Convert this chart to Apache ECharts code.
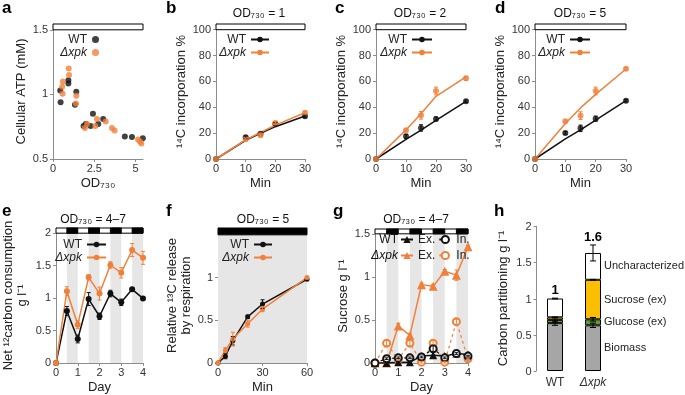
<!DOCTYPE html>
<html><head><meta charset="utf-8">
<script src="https://cdn.jsdelivr.net/npm/echarts@6/dist/echarts.min.js"></script>
<style>html,body{margin:0;padding:0;background:#fff}#c{width:685px;height:395px}</style>
</head><body><div id="c"></div>
<script>
// ---------------- data ----------------
// a: cellular ATP vs OD730
const atpOdWT = [0.44,0.46,0.93,0.93,1.41,1.33,1.85,1.98,2.28,2.42,2.74,3.04,4.35,4.78,5.44];
const atpWT   = [1.03,0.94,1.11,1.085,1.02,0.92,0.755,0.77,0.755,0.85,0.77,0.81,0.675,0.67,0.66];
const atpOdX  = [0.6,0.56,0.58,0.95,0.97,1.41,1.39,1.93,2.06,2.56,2.66,3.19,3.57,3.73,5.15,5.27,5.35];
const atpX    = [1.1,1.06,1.005,1.2,1.15,0.99,0.93,0.74,0.77,0.755,0.81,0.79,0.74,0.72,0.65,0.635,0.62];

// b-d: 14C incorporation
const incMin = [0,10,15,20,30];
const bWT = [0,16.8,19.5,27.3,33.0], bWTerr = [0,1,0,1,1];
const bX  = [0,15.2,18.3,27.8,35.8], bXerr  = [0,1,1,1,1];
const bFitWT = [0,14.5,19.8,25.0,33.2], bFitX = [0,14.8,20.5,26.2,35.8];
const cWT = [0,17.5,24,31,44.6], cWTerr = [0,1.5,2.5,1.5,1];
const cX  = [0,22.2,33.8,52.6,62.4], cXerr = [0,1,3,3,1.5];
const cFitWT = [0,15.2,22.3,29.8,44.6], cFitX = [0,22.5,35,48.5,63.5];
const dWT = [0,20.1,23.7,31.2,45.1], dWTerr = [0,1,2.5,2,1];
const dX  = [0,29.1,33.5,52.6,69.8], dXerr = [0,1,3,3,1];
const dFitWT = [0,15.5,22.5,30,45.1], dFitX = [0,27.5,39.5,50,69.6];

// e: net 12C consumption
const days = [0,0.5,1,1.5,2,2.5,3,3.5,4];
const eWT = [0,0.80,0.37,0.985,0.72,1.07,0.935,1.135,0.995];
const eWTerr = [0,0.07,0.06,0.1,0.05,0.05,0.05,0.02,0.01];
const eX = [0,1.105,0.59,1.32,1.07,1.51,1.39,1.74,1.62];
const eXerr = [0,0.07,0.06,0.04,0.1,0.05,0.08,0.1,0.1];
const nights = [[0.5,1],[1.5,2],[2.5,3],[3.5,4]];

// f: 13C release
const fMin = [0,5,10,20,30,60];
const fWT = [0,0.08,0.26,0.54,0.69,0.98], fWTerr = [0,0.03,0.05,0.02,0.05,0];
const fX  = [0,0.15,0.28,0.46,0.63,1.0],  fXerr  = [0,0.03,0.08,0.04,0.03,0];

// g: sucrose
const gWTex = [0,0,0.01,0.01,0.08,0.09,0.08,0.11,0.1];
const gWTin = [0,0.05,0.06,0.06,0.07,0.165,0.06,0.11,0.08];
const gWTinErr = [0,0.01,0.01,0.01,0.01,0.04,0.01,0.01,0.01];
const gXex = [0,0,0.43,0.32,0.91,0.89,1.065,1.02,1.35];
const gXexErr = [0,0,0.03,0.02,0.02,0.02,0.02,0.06,0.02];
const gXin = [0,0.23,0.04,0.23,0.01,0.23,0.01,0.48,0.05];
const gXinErr = [0,0.03,0.01,0.03,0.01,0.03,0.01,0.03,0.01];

// h: carbon partitioning
const hCats = ['WT','Δxpk'];
const hBiomass = [0.66,0.63], hBiomassErr = [0.03,0.03];
const hGlucose = [0.045,0.083], hGlucoseErr = [0.03,0.025];
const hSucrose = [0.035,0.545], hSucroseErr = [0.005,0.005];
const hUnchar = [0.26,0.37], hTotalErr = [0.005,0.11];
const hTotalText = ['1','1.6'];
const hTicks = [0,0.5,1,1.5,2];

// ---------------- style ----------------
const FONT = '"Liberation Sans", Arial, Helvetica, sans-serif';
const BLK = '#111111', ORG = '#f0803a', AX = '#8c8c8c', TXT = '#333333';
const zip = (xs, ys) => xs.map((x,i)=>[x, ys[i]]);
const zip3 = (xs, ys, es) => xs.map((x,i)=>[x, ys[i], es[i]]);
const strip = n => n.split(':')[1].replace(/^(WT|Δxpk) /,'');

function vAxis(gi, min, max, vals, name, gap, isY) {
  return {
    type:'value', gridIndex:gi, min, max, show:true, position:isY?'left':'bottom',
    axisLine:{show:true, onZero:false, lineStyle:{color:AX, width:1}},
    axisTick:{show:true, length:3, customValues:vals, lineStyle:{color:AX}},
    axisLabel:{show:true, color:TXT, fontSize:11, fontFamily:FONT, margin:isY?5:4, customValues:vals},
    splitLine:{show:false},
    name:name, nameLocation:'middle', nameGap:gap,
    nameTextStyle:{color:'#222', fontSize:13, fontFamily:FONT, lineHeight:14}
  };
}
function errBar(color, cap) {
  return function(params, api) {
    const x = api.value(0), y = api.value(1), e = api.value(2);
    if (!e) return null;
    const hi = api.coord([x, y+e]), lo = api.coord([x, y-e]);
    const st = {stroke:color, lineWidth:1};
    return {type:'group', children:[
      {type:'line', shape:{x1:hi[0],y1:hi[1],x2:lo[0],y2:lo[1]}, style:st},
      {type:'line', shape:{x1:hi[0]-cap,y1:hi[1],x2:hi[0]+cap,y2:hi[1]}, style:st},
      {type:'line', shape:{x1:lo[0]-cap,y1:lo[1],x2:lo[0]+cap,y2:lo[1]}, style:st}
    ]};
  };
}
function errSeries(gi, data, color, cap) {
  return {type:'custom', xAxisIndex:gi, yAxisIndex:gi, data, renderItem:errBar(color, cap||2), z:4, silent:true, encode:{x:0,y:1}};
}
const boxArea = (x0,x1,y0,y1) => [[{xAxis:x0,yAxis:y0,itemStyle:{color:'#fff',borderColor:'#000',borderWidth:1,opacity:1}},{xAxis:x1,yAxis:y1}]];
const nightBands = (y0,y1) => nights.map(n=>[{xAxis:n[0],yAxis:y0,itemStyle:{color:'#e6e6e6',borderWidth:0,opacity:1}},{xAxis:n[1],yAxis:y1}]);
const dayBar = (x0,x1,y0,y1) => boxArea(x0,x1,y0,y1).concat(nights.map(n=>[{xAxis:n[0],yAxis:y0,itemStyle:{color:'#000',borderColor:'#000',borderWidth:1,opacity:1}},{xAxis:n[1],yAxis:y1}]));
const mArea = data => ({silent:true, label:{show:false}, emphasis:{disabled:true}, data});

// ---------------- grids & axes ----------------
const grids = [
  {left:53, top:24, width:90, height:135},   // a
  {left:216, top:24, width:89, height:135},  // b
  {left:376, top:24, width:90, height:135},  // c
  {left:535, top:24, width:91, height:135},  // d
  {left:54, top:228, width:89, height:136},  // e
  {left:218, top:228, width:89, height:136}, // f
  {left:375, top:229, width:93, height:135}, // g
  {left:536, top:226, width:76, height:145}  // h
];
const incTicks = [0,20,40,60,80,100];
const xAxes = [
  vAxis(0,0,5.45,[0,2.5,5],'OD₇₃₀',17,false),
  vAxis(1,0,30,[0,10,20,30],'Min',17,false),
  vAxis(2,0,30,[0,10,20,30],'Min',17,false),
  vAxis(3,0,30,[0,10,20,30],'Min',17,false),
  vAxis(4,0,4,[0,1,2,3,4],'Day',17,false),
  vAxis(5,0,60,[0,30,60],'Min',17,false),
  vAxis(6,0,4,[0,1,2,3,4],'Day',17,false),
  {type:'category', gridIndex:7, data:hCats.map(c=>c==='Δxpk'?{value:c, textStyle:{fontStyle:'italic'}}:c),
   axisLine:{show:false}, axisTick:{show:false},
   axisLabel:{interval:0, color:TXT, fontSize:12, fontFamily:FONT, margin:6}}
];
const hYAxis = vAxis(7,0,2,hTicks,'Carbon partitioning g l⁻¹',26,true);
hYAxis.axisLine = {show:false}; hYAxis.axisTick = {show:false}; hYAxis.axisLabel = {show:false};
hYAxis.nameGap = 26;
const yAxes = [
  vAxis(0,0.5,1.545,[0.5,1,1.5],'Cellular ATP (mM)',24,true),
  vAxis(1,0,104.4,incTicks,'¹⁴C incorporation %',27,true),
  vAxis(2,0,104.4,incTicks,'¹⁴C incorporation %',27,true),
  vAxis(3,0,104.4,incTicks,'¹⁴C incorporation %',27,true),
  vAxis(4,0,2.08,[0,0.5,1,1.5,2],'Net ¹²carbon consumption\ng l⁻¹',27,true),
  vAxis(5,0,1.58,[0,0.5,1],'Relative ¹³C release\nby respiration',25,true),
  vAxis(6,0,1.556,[0,0.5,1,1.5],'Sucrose g l⁻¹',22,true),
  hYAxis
];

// ---------------- series ----------------
const series = [];
// a
series.push({name:'a:WT', type:'scatter', xAxisIndex:0, yAxisIndex:0, data:zip(atpOdWT, atpWT), symbolSize:6, itemStyle:{color:BLK}, clip:false,
  markArea:mArea(boxArea(0,5.45,1.5,1.545))});
series.push({name:'a:Δxpk', type:'scatter', xAxisIndex:0, yAxisIndex:0, data:zip(atpOdX, atpX), symbolSize:6, itemStyle:{color:ORG}});
// b-d
const incPanels = [
  ['b',1,bWT,bWTerr,bX,bXerr,bFitWT,bFitX],
  ['c',2,cWT,cWTerr,cX,cXerr,cFitWT,cFitX],
  ['d',3,dWT,dWTerr,dX,dXerr,dFitWT,dFitX]
];
incPanels.forEach(([p,gi,wt,wte,xx,xxe,fw,fx])=>{
  series.push({name:p+':WT', type:'line', xAxisIndex:gi, yAxisIndex:gi, data:zip(incMin,fw), symbol:'none', lineStyle:{color:BLK,width:1.5}, itemStyle:{color:BLK}, clip:false,
    markArea:mArea(boxArea(0,30,100,104.4))});
  series.push({name:p+':Δxpk', type:'line', xAxisIndex:gi, yAxisIndex:gi, data:zip(incMin,fx), symbol:'none', lineStyle:{color:ORG,width:1.5}, itemStyle:{color:ORG}});
  series.push({name:p+':WTpts', type:'scatter', xAxisIndex:gi, yAxisIndex:gi, data:zip(incMin,wt), symbolSize:6, itemStyle:{color:BLK}, z:3});
  series.push(errSeries(gi, zip3(incMin,wt,wte), BLK));
  series.push({name:p+':Xpts', type:'scatter', xAxisIndex:gi, yAxisIndex:gi, data:zip(incMin,xx), symbolSize:6, itemStyle:{color:ORG}, z:3});
  series.push(errSeries(gi, zip3(incMin,xx,xxe), ORG));
});
// e
series.push({name:'e:WT', type:'line', xAxisIndex:4, yAxisIndex:4, data:zip(days,eWT), symbol:'circle', symbolSize:6, lineStyle:{color:BLK,width:1.5}, itemStyle:{color:BLK}, clip:false,
  markArea:mArea(nightBands(0,2).concat(dayBar(0,4,2,2.08)))});
series.push(errSeries(4, zip3(days,eWT,eWTerr), BLK));
series.push({name:'e:Δxpk', type:'line', xAxisIndex:4, yAxisIndex:4, data:zip(days,eX), symbol:'circle', symbolSize:6, lineStyle:{color:ORG,width:1.5}, itemStyle:{color:ORG}});
series.push(errSeries(4, zip3(days,eX,eXerr), ORG));
// f
series.push({name:'f:WT', type:'line', xAxisIndex:5, yAxisIndex:5, data:zip(fMin,fWT), symbol:'circle', symbolSize:5, lineStyle:{color:BLK,width:1.5}, itemStyle:{color:BLK}, clip:false,
  markArea:mArea([[{xAxis:0,yAxis:0,itemStyle:{color:'#e6e6e6',borderWidth:0,opacity:1}},{xAxis:60,yAxis:1.5}],
                  [{xAxis:0,yAxis:1.5,itemStyle:{color:'#000',borderColor:'#000',borderWidth:1,opacity:1}},{xAxis:60,yAxis:1.58}]])});
series.push(errSeries(5, zip3(fMin,fWT,fWTerr), BLK));
series.push({name:'f:Δxpk', type:'line', xAxisIndex:5, yAxisIndex:5, data:zip(fMin,fX), symbol:'circle', symbolSize:5, lineStyle:{color:ORG,width:1.5}, itemStyle:{color:ORG}});
series.push(errSeries(5, zip3(fMin,fX,fXerr), ORG));
// g
series.push({name:'g:Δxpk Ex.', type:'line', xAxisIndex:6, yAxisIndex:6, data:zip(days,gXex), symbol:'triangle', symbolSize:9, lineStyle:{color:ORG,width:1.5}, itemStyle:{color:ORG}, clip:false,
  markArea:mArea(nightBands(0,1.5).concat(dayBar(0,4,1.5,1.556)))});
series.push(errSeries(6, zip3(days,gXex,gXexErr), ORG));
series.push({name:'g:Δxpk In.', type:'line', xAxisIndex:6, yAxisIndex:6, data:zip(days,gXin), symbol:'emptyCircle', symbolSize:7, lineStyle:{color:ORG,width:1.2,type:[3,3]}, itemStyle:{color:ORG, borderWidth:1.3}});
series.push(errSeries(6, zip3(days,gXin,gXinErr), ORG));
series.push({name:'g:WT Ex.', type:'line', xAxisIndex:6, yAxisIndex:6, data:zip(days,gWTex), symbol:'triangle', symbolSize:8, lineStyle:{color:BLK,width:1.5}, itemStyle:{color:BLK}});
series.push({name:'g:WT In.', type:'line', xAxisIndex:6, yAxisIndex:6, data:zip(days,gWTin), symbol:'emptyCircle', symbolSize:7, lineStyle:{color:BLK,width:1.2,type:[3,3]}, itemStyle:{color:BLK, borderWidth:1.3}});
series.push(errSeries(6, zip3(days,gWTin,gWTinErr), BLK));
// h
const hLabel = {show:true, position:'right', distance:3, color:'#222', fontSize:11, fontFamily:FONT,
  formatter:p=>p.dataIndex===1?p.seriesName:''};
[['Biomass',hBiomass,'#a6a6a6'],['Glucose (ex)',hGlucose,'#5f9b3c'],['Sucrose (ex)',hSucrose,'#fcbf00'],['Uncharacterized',hUnchar,'#ffffff']].forEach(([n,d,c])=>{
  series.push({name:n, type:'bar', stack:'h', xAxisIndex:7, yAxisIndex:7, data:d, barWidth:16,
    itemStyle:{color:c, borderColor:'#000', borderWidth:1}, label:hLabel});
});
const cum1 = hBiomass, cum2 = hBiomass.map((v,i)=>v+hGlucose[i]), cum3 = cum2.map((v,i)=>v+hSucrose[i]), cum4 = cum3.map((v,i)=>v+hUnchar[i]);
[[cum1,hBiomassErr],[cum2,hGlucoseErr],[cum3,hSucroseErr],[cum4,hTotalErr]].forEach(([c,e])=>{
  series.push(errSeries(7, c.map((v,i)=>[i,v,e[i]]), '#000', 3));
});
series.push({type:'custom', xAxisIndex:7, yAxisIndex:7, silent:true, z:5, data:cum4.map((v,i)=>[i, v+hTotalErr[i]]), encode:{x:0,y:1},
  renderItem:(params, api)=>{ const pt = api.coord([api.value(0), api.value(1)]);
    return {type:'text', x:pt[0], y:pt[1]-1, style:{text:hTotalText[params.dataIndex], fill:'#000', fontSize:13, fontWeight:'bold', fontFamily:FONT, align:'center', verticalAlign:'bottom'}}; }});

// ---------------- legends ----------------
const lt = {fontSize:12, color:'#222', fontFamily:FONT, lineHeight:13};
const lg = (p, right, top, iw, ih) => ({orient:'vertical', align:'right', right, top, itemWidth:iw, itemHeight:ih, itemGap:0, padding:0,
  selectedMode:false, formatter:strip, textStyle:lt,
  data:[{name:p+':WT'},{name:p+':Δxpk', textStyle:{fontStyle:'italic'}}]});
const legends = [
  lg('a',586,33,7,7), lg('b',415,33,18,7), lg('c',252,33,20,7), lg('d',94,33,20,7),
  lg('e',578,238,19,7), lg('f',412,238,18,7),
  {orient:'horizontal', left:400, top:233, itemWidth:12, itemHeight:9, itemGap:3, padding:0, selectedMode:false, formatter:strip, textStyle:lt,
   data:['g:WT Ex.','g:WT In.']},
  {orient:'horizontal', left:400, top:249, itemWidth:12, itemHeight:9, itemGap:3, padding:0, selectedMode:false, formatter:strip, textStyle:lt,
   data:['g:Δxpk Ex.','g:Δxpk In.']}
];

// ---------------- text ----------------
const T = (x,y,text,o) => ({type:'text', x, y, z:100, silent:true, style:Object.assign({text, fill:'#111', fontSize:12, fontFamily:FONT, align:'center', verticalAlign:'middle'}, o||{})});
const L = (x,y,t) => T(x,y,t,{fontSize:17, fontWeight:'bold', align:'left', verticalAlign:'top', fill:'#000'});
const graphic = [
  L(2,0,'a'), L(166,0,'b'), L(335,0,'c'), L(495,0,'d'),
  L(2,203,'e'), L(166,203,'f'), L(333,203,'g'), L(494,203,'h'),
  T(259,14,'OD₇₃₀ = 1'), T(420,14,'OD₇₃₀ = 2'), T(580,14,'OD₇₃₀ = 5'),
  T(93,220,'OD₇₃₀ = 4–7'), T(263,220,'OD₇₃₀ = 5'), T(416,220,'OD₇₃₀ = 4–7'),
  T(398,240,'WT',{align:'right'}), T(398,256,'Δxpk',{align:'right', fontStyle:'italic'})
];

const chart = echarts.init(document.getElementById('c'), null, {renderer:'canvas'});
chart.setOption({animation:false, backgroundColor:'#fff', textStyle:{fontFamily:FONT},
  grid:grids, xAxis:xAxes, yAxis:yAxes, series, legend:legends, graphic});

// ---- panel h value axis: line, ticks and labels placed through the chart's own y scale ----
let axX = grids[7].left;
try { axX = chart.getModel().getComponent('grid', 7).coordinateSystem.getRect().x; } catch (e) {}
axX = Math.round(axX) + 0.5;
const yPix = v => chart.convertToPixel({yAxisIndex:7}, v);
const axG = [{type:'line', z:100, silent:true, shape:{x1:axX, y1:yPix(hTicks[0]), x2:axX, y2:yPix(hTicks[hTicks.length-1])}, style:{stroke:AX, lineWidth:1}}];
hTicks.forEach(v => {
  const y = Math.round(yPix(v)) + 0.5;
  axG.push({type:'line', z:100, silent:true, shape:{x1:axX-3, y1:y, x2:axX, y2:y}, style:{stroke:AX, lineWidth:1}});
  axG.push(T(axX-5, y, String(v), {align:'right', fontSize:11, fill:TXT}));
});
chart.setOption({graphic: graphic.concat(axG)});
</script></body></html>
